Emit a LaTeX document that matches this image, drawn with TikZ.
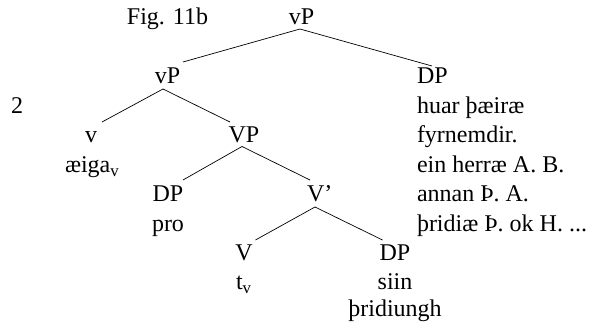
\documentclass[tikz,border=0pt]{standalone}
\usepackage{fontspec}
\setmainfont{Liberation Serif}
\usetikzlibrary{calc}
\tikzset{
  lab/.style={inner sep=0pt, outer sep=0pt, font=\fontsize{24}{29.5}\selectfont},
  cat/.style={lab, anchor=base},
  catw/.style={lab, anchor=base west},
  branch/.style={line width=0.7pt, black}
}
\begin{document}
\begin{tikzpicture}[x=1pt, y=-1pt]
\useasboundingbox (0,0) rectangle (600,323);

% figure caption and example number
\node[cat]  (fig) at (167.5,25) {Fig. 11b};
\node[catw] (num) at (11,113.5) {2};

% categories
\node[cat]  (vptop) at (301.5,25) {vP};
\node[cat]  (vpmid) at (167.5,84) {vP};
\node[catw] (dpr)   at (417,84)   {DP};
\node[cat]  (vhead) at (91,143)   {v};
\node[cat]  (VP)    at (244,143)  {VP};
\node[cat]  (dpl)   at (168,202)  {DP};
\node[catw] (vbar)  at (307,202)  {V’};
\node[cat]  (Vhead) at (244,261)  {V};
\node[cat]  (dpb)   at (395,261)  {DP};

% lexical material
\node[catw] (r1) at (417,113.5) {huar þæiræ};
\node[catw] (r2) at (417,143)   {fyrnemdir.};
\node[catw] (r3) at (417,172.5) {ein herræ A. B.};
\node[catw] (r4) at (417,202)   {annan Þ. A.};
\node[catw] (r5) at (417,231.5) {þridiæ Þ. ok H. ...};
\node[catw] (aiga) at (65,172.5) {æiga\textsubscript{v}};
\node[cat]  (pro)  at (168,231.5) {pro};
\node[catw] (tv)   at (236,290) {t\textsubscript{v}};
\node[cat]  (siin) at (395,290) {siin};
\node[cat]  (thr)  at (395,316.5) {þridiungh};

% branches
\draw[branch] ($(vptop.base)+(-1.5,4)$) -- ($(vpmid.base)+(15.5,-22)$);
\draw[branch] ($(vptop.base)+(-1.5,4)$) -- ($(dpr.base west)+(15,-18)$);
\draw[branch] ($(vpmid.base)+(-4.5,5)$) -- ($(vhead.base)+(11,-21)$);
\draw[branch] ($(vpmid.base)+(-4.5,5)$) -- ($(VP.base)+(-14,-21)$);
\draw[branch] ($(VP.base)+(-2,3.5)$) -- ($(dpl.base)+(15,-22)$);
\draw[branch] ($(VP.base)+(-2,3.5)$) -- ($(vbar.base west)+(3,-22)$);
\draw[branch] ($(vbar.base west)+(8,5)$) -- ($(Vhead.base)+(11.5,-21)$);
\draw[branch] ($(vbar.base west)+(8,5)$) -- ($(dpb.base)+(-12.5,-21)$);
\end{tikzpicture}
\end{document}
